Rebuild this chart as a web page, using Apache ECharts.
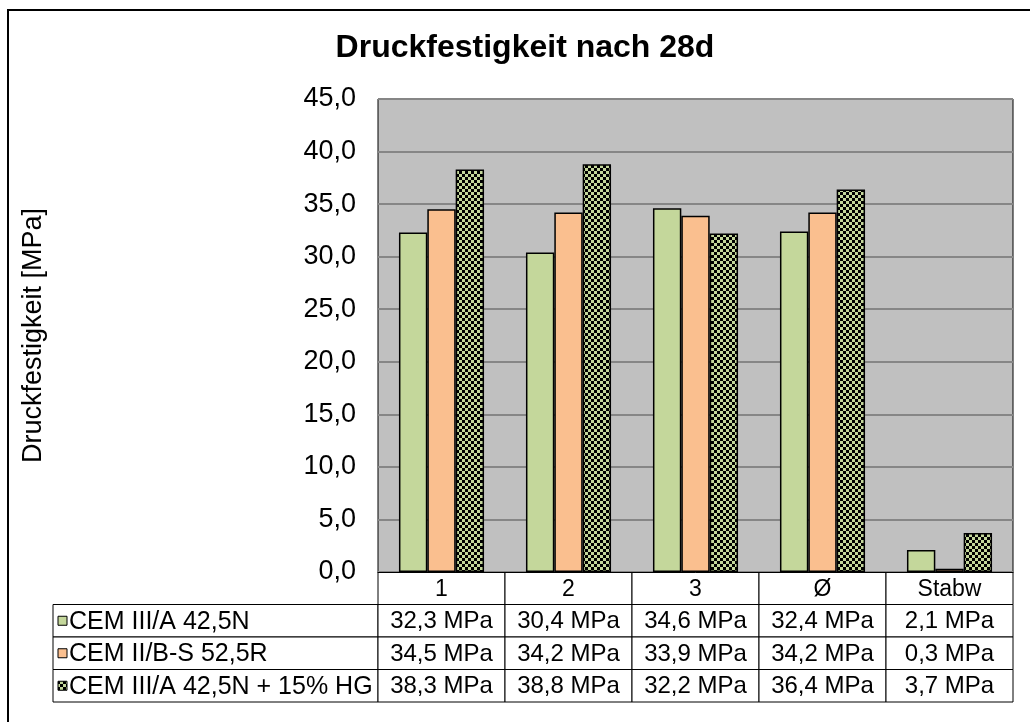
<!DOCTYPE html>
<html>
<head>
<meta charset="utf-8">
<script src="https://cdn.jsdelivr.net/npm/echarts@6/dist/echarts.min.js"></script>
<style>
  html, body { margin: 0; padding: 0; background: #fff; }
  #chart { width: 1030px; height: 722px; }
</style>
</head>
<body>
<div id="chart"></div>
<script>
  // data
  const categories = ['1', '2', '3', 'Ø', 'Stabw']
  const seriesNames = ['CEM III/A 42,5N', 'CEM II/B-S 52,5R', 'CEM III/A 42,5N + 15% HG']
  const cemIIIA = [32.3, 30.4, 34.6, 32.4, 2.1]
  const cemIIBS = [34.5, 34.2, 33.9, 34.2, 0.3]
  const cemIIIAHG = [38.3, 38.8, 32.2, 36.4, 3.7]
  const yTicks = [0, 45, 5] // min, max, interval

  const FONT = 'Liberation Sans, Arial, sans-serif'
  const green = '#C4D79B'
  const orange = '#FABF8F'

  // checkerboard fill like the Excel pattern
  function checker () {
    const c = document.createElement('canvas')
    c.width = 6
    c.height = 6
    const ctx = c.getContext('2d')
    ctx.fillStyle = green
    ctx.fillRect(0, 0, 6, 6)
    ctx.fillStyle = '#000'
    ctx.fillRect(0, 0, 3, 3)
    ctx.fillRect(3, 3, 3, 3)
    return { image: c, repeat: 'repeat' }
  }
  const fills = [green, orange, checker()]
  const values = [cemIIIA, cemIIBS, cemIIIAHG]

  // plot area / table geometry
  const gLeft = 378
  const gTop = 99
  const gWidth = 635
  const gHeight = 473
  const gBottom = gTop + gHeight
  const colW = gWidth / categories.length
  const rowH = 32.5
  const tableLeft = 53

  const fmt = v => v.toFixed(1).replace('.', ',')

  function cell (x, y, w, h) {
    return {
      type: 'rect',
      shape: { x: x, y: y, width: w, height: h },
      style: { fill: '#fff', stroke: '#000', lineWidth: 1 },
      silent: true
    }
  }
  function label (text, x, y, size, align) {
    return {
      type: 'text',
      x: x,
      y: y,
      style: { text: text, font: size + 'px ' + FONT, fill: '#000', align: align || 'center', verticalAlign: 'middle' },
      silent: true
    }
  }

  const graphics = []
  // outer chart border (only top/left visible in the crop)
  graphics.push({
    type: 'polyline',
    shape: { points: [[8, 722], [8, 10], [1030, 10]] },
    style: { stroke: '#000', lineWidth: 2, fill: null },
    silent: true
  })

  // header row of the data table
  categories.forEach((c, i) => {
    graphics.push(cell(gLeft + i * colW, gBottom, colW, rowH))
    graphics.push(label(c, gLeft + (i + 0.5) * colW, gBottom + rowH / 2 + 1, 23))
  })

  // value rows with legend keys
  seriesNames.forEach((name, r) => {
    const y = gBottom + (r + 1) * rowH
    graphics.push(cell(tableLeft, y, gLeft - tableLeft, rowH))
    graphics.push({
      type: 'rect',
      shape: { x: tableLeft + 5, y: y + rowH / 2 - 4.5, width: 9, height: 9 },
      style: { fill: fills[r], stroke: '#000', lineWidth: 1 },
      silent: true
    })
    graphics.push(label(name, tableLeft + 16, y + rowH / 2 + 1, 25, 'left'))
    values[r].forEach((v, i) => {
      graphics.push(cell(gLeft + i * colW, y, colW, rowH))
      graphics.push(label(fmt(v) + ' MPa', gLeft + (i + 0.5) * colW, y + rowH / 2 + 1, 24))
    })
  })

  const myChart = echarts.init(document.getElementById('chart'), null, { renderer: 'canvas' })
  const option = {
    animation: false,
    backgroundColor: '#fff',
    title: {
      text: 'Druckfestigkeit nach 28d',
      left: 520,
      top: 27,
      textAlign: 'center',
      textStyle: { fontFamily: FONT, fontSize: 32, fontWeight: 'bold', color: '#000' }
    },
    grid: {
      left: gLeft,
      top: gTop,
      width: gWidth,
      height: gHeight,
      show: true,
      backgroundColor: '#C0C0C0',
      borderColor: '#000',
      borderWidth: 1,
      containLabel: false
    },
    xAxis: {
      type: 'category',
      data: categories,
      axisLine: { show: true, lineStyle: { color: '#000', width: 1 } },
      axisTick: { show: false },
      axisLabel: { show: false },
      splitLine: { show: false }
    },
    yAxis: {
      type: 'value',
      min: yTicks[0],
      max: yTicks[1],
      interval: yTicks[2],
      name: 'Druckfestigkeit [MPa]',
      nameLocation: 'middle',
      nameGap: 331,
      nameRotate: 90,
      nameTextStyle: { fontFamily: FONT, fontSize: 27, color: '#000' },
      axisLine: { show: false },
      axisTick: { show: false },
      axisLabel: {
        margin: 22,
        fontFamily: FONT,
        fontSize: 27,
        color: '#000',
        formatter: v => fmt(v)
      },
      splitLine: { show: true, lineStyle: { color: '#868686', width: 2 } }
    },
    series: seriesNames.map((name, i) => ({
      name: name,
      type: 'bar',
      data: values[i],
      barGap: '0%',
      barCategoryGap: '33%',
      itemStyle: { color: fills[i], borderColor: '#000', borderWidth: 1.5 }
    })),
    graphic: graphics
  }
  myChart.setOption(option)
</script>
</body>
</html>
